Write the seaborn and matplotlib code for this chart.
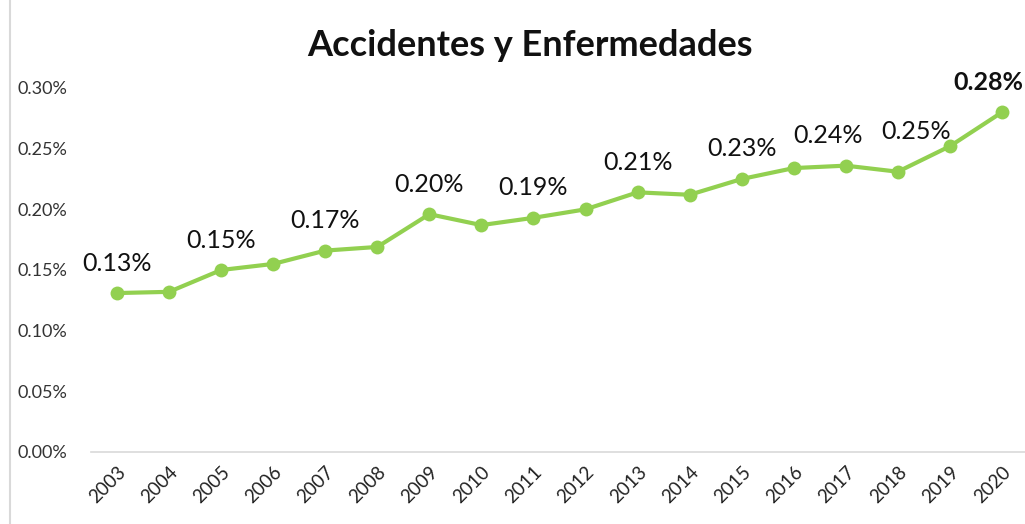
import matplotlib.pyplot as plt
import matplotlib.ticker as mticker
import numpy as np
import pandas as pd
import seaborn as sns

years = [str(y) for y in range(2003, 2021)]
rates = [0.131, 0.132, 0.150, 0.155, 0.166, 0.169, 0.196, 0.187, 0.193,
         0.200, 0.214, 0.212, 0.225, 0.234, 0.236, 0.231, 0.252, 0.280]

# which points get a value label, and the text shown
label_years = ["2003", "2005", "2007", "2009", "2011", "2013", "2015", "2017", "2019", "2020"]
label_text = ["0.13%", "0.15%", "0.17%", "0.20%", "0.19%", "0.21%", "0.23%", "0.24%", "0.25%", "0.28%"]

GREEN = "#92D050"

sns.set_theme(style="white")
plt.rcParams["font.family"] = ["Lato", "DejaVu Sans"]

df = pd.DataFrame({"year": years, "rate": rates})
df["pos"] = np.arange(len(df))

fig = plt.figure(figsize=(10.25, 5.24), dpi=100)
ax = fig.add_axes([91 / 1025, (524 - 452) / 524, 937 / 1025, (452 - 70) / 524])

sns.lineplot(data=df, x="pos", y="rate", ax=ax, color=GREEN, linewidth=3,
             marker="o", markersize=10, markeredgewidth=0, sort=False)

ax.set_xlim(-0.5, len(df) - 0.5)
ax.set_ylim(0, 0.3 * 382 / 364)
ax.set_yticks([0, 0.05, 0.10, 0.15, 0.20, 0.25, 0.30])
ax.yaxis.set_major_formatter(mticker.FuncFormatter(lambda v, p: f"{v:.2f}%"))
ax.set_xticks(df["pos"])
ax.set_xticklabels(years, rotation=45, ha="right", rotation_mode="anchor")
ax.tick_params(axis="x", labelsize=13.5, length=0, pad=8, colors="#222222")
ax.tick_params(axis="y", labelsize=13, length=0, pad=17, colors="#333333")
ax.set_xlabel("")
ax.set_ylabel("")

for s in ["top", "right", "left"]:
    ax.spines[s].set_visible(False)
ax.spines["bottom"].set_color("#d9d9d9")
ax.spines["bottom"].set_linewidth(1.2)

# data labels (offsets in pixels)
offsets = {"2017": (-18, 30), "2019": (-34, 15), "2020": (-14, 30)}
for yr, txt in zip(label_years, label_text):
    row = df[df["year"] == yr].iloc[0]
    dx, dy = offsets.get(yr, (0, 30))
    bold = yr == "2020"
    ax.annotate(txt, (row["pos"], row["rate"]), xytext=(dx * 0.72, dy * 0.72),
                textcoords="offset points", ha="center", va="center",
                fontsize=18, color="#111111",
                fontweight="bold" if bold else "normal", annotation_clip=False)

fig.text(530 / 1025, 1 - 46 / 524, "Accidentes y Enfermedades", ha="center", va="center",
         fontsize=26, fontweight="bold", color="#111111")

# chart frame edge on the left
fig.add_artist(plt.Line2D([10 / 1025, 10 / 1025], [0, 1], transform=fig.transFigure,
                          color="#d9d9d9", linewidth=1.5))

fig.savefig("out.png", dpi=100)
